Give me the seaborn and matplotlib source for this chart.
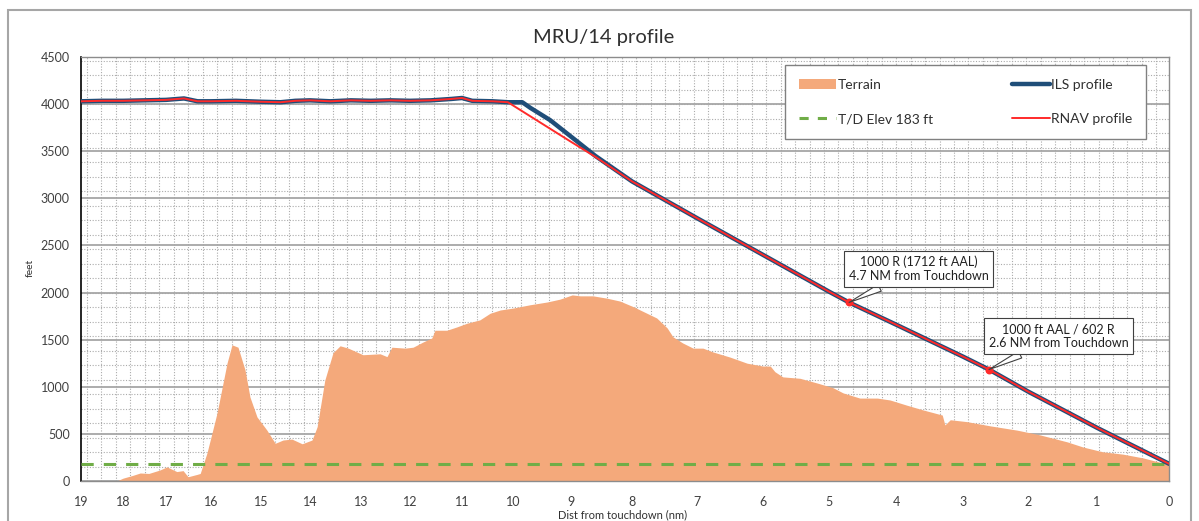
import numpy as np
import pandas as pd
import matplotlib
matplotlib.use("Agg")
import matplotlib.pyplot as plt
import seaborn as sns
from matplotlib.patches import Patch, Rectangle
from matplotlib.lines import Line2D

# terrain profile (distance from touchdown in nm, elevation in ft)
terrain_dist = [18.15, 18.0, 17.77, 17.6, 17.4, 17.14, 16.98, 16.76, 16.62, 16.51, 16.31, 16.24,
                16.09, 15.88, 15.68, 15.58, 15.46, 15.32, 15.22, 15.08, 14.88, 14.71, 14.55,
                14.37, 14.16, 13.96, 13.86, 13.71, 13.55, 13.41, 13.25, 12.96, 12.61, 12.47,
                12.37, 12.10, 11.94, 11.75, 11.58, 11.52, 11.29, 11.10, 10.90, 10.65, 10.45,
                10.25, 10.00, 9.71, 9.41, 9.19, 8.98, 8.85, 8.64, 8.41, 8.20, 7.98, 7.77,
                7.62, 7.46, 7.37, 7.22, 7.06, 6.91, 6.76, 6.50, 6.24, 6.00, 5.89, 5.82, 5.70,
                5.44, 5.18, 4.94, 4.79, 4.54, 4.28, 4.09, 3.84, 3.60, 3.31, 3.27, 3.19, 2.94,
                2.58, 2.17, 1.83, 1.43, 1.20, 0.92, 0.64, 0.36, 0.08, 0.0]
terrain_ft = [0, 30, 60, 85, 80, 117, 150, 100, 110, 45, 70, 80,
              297, 720, 1250, 1445, 1420, 1180, 890, 680, 540, 400, 435,
              445, 395, 435, 575, 1070, 1360, 1435, 1410, 1340, 1350, 1320,
              1420, 1410, 1420, 1475, 1518, 1600, 1600, 1635, 1675, 1710, 1780,
              1815, 1835, 1870, 1900, 1930, 1975, 1965, 1965, 1940, 1910, 1850, 1780,
              1730, 1625, 1530, 1465, 1410, 1410, 1370, 1315, 1250, 1220, 1220, 1160, 1105,
              1090, 1040, 990, 935, 880, 880, 860, 805, 755, 700, 595, 650, 630,
              585, 540, 490, 415, 360, 310, 285, 245, 190, 175]

# approach profiles
rnav_dist = [19, 18.5, 18, 17.5, 17, 16.6, 16.3, 16, 15.5, 15, 14.6, 14.3, 14, 13.6, 13.2,
             12.8, 12.4, 12, 11.6, 11.2, 11, 10.8, 10.4, 10.1, 9, 8.6, 8, 7, 6, 5, 4.7, 4,
             3, 2.6, 2, 1, 0]
rnav_ft = [4030, 4035, 4035, 4040, 4045, 4060, 4030, 4030, 4035, 4025, 4020, 4035, 4040, 4030,
           4040, 4035, 4040, 4035, 4040, 4055, 4065, 4035, 4030, 4020, 3600, 3440, 3180, 2790,
           2400, 2010, 1895, 1660, 1320, 1183, 950, 565, 183]
ils_dist = [19, 18.5, 18, 17.5, 17, 16.6, 16.3, 16, 15.5, 15, 14.6, 14.3, 14, 13.6, 13.2,
            12.8, 12.4, 12, 11.6, 11.2, 11, 10.8, 10.4, 10.1, 9.84, 9.7, 9.36, 8.97, 8.6, 8, 7,
            6, 5, 4.7, 4, 3, 2.6, 2, 1, 0]
ils_ft = [4030, 4035, 4035, 4040, 4045, 4060, 4030, 4030, 4035, 4025, 4020, 4035, 4040, 4030,
          4040, 4035, 4040, 4035, 4040, 4055, 4065, 4035, 4030, 4020, 4020, 3960, 3830, 3640,
          3450, 3180, 2790, 2400, 2010, 1895, 1660, 1320, 1183, 950, 565, 183]

td_elev = 183
marker_dist = [4.7, 2.6]
marker_ft = [1895, 1183]
marker_text = ["1000 R (1712 ft AAL)\n4.7 NM from Touchdown",
               "1000 ft AAL / 602 R\n2.6 NM from Touchdown"]

tick_dist = np.arange(0, 20)
# horizontal position of each distance label on the chart (pixels)
tick_px = np.array([1169, 1097, 1028, 963, 896, 829, 763, 697, 632, 571, 513, 462, 410,
                    361, 310, 261, 211, 166, 123, 81])
tick_pos = (1169 - tick_px) / 1088.0

def fwd(d):
    return np.interp(d, tick_dist, tick_pos)

def inv(p):
    return np.interp(p, tick_pos, tick_dist)

sns.set_theme(style="white")
plt.rcParams['font.family'] = ['Lato', 'DejaVu Sans']

fig = plt.figure(figsize=(11.99, 5.21), dpi=100)
ax_pos = [81 / 1199, 40 / 521, 1088 / 1199, 424 / 521]

# dotted background pattern
bg = fig.add_axes(ax_pos, zorder=0)
bg.set_xlim(0, 1088)
bg.set_ylim(0, 424)
bg.vlines(np.arange(6, 1088, 14.45), 0, 424, color='#ABABAB', lw=0.8, linestyles=(0, (1, 1.5)))
bg.hlines(np.arange(0, 424, 14.5), 0, 1088, color='#ABABAB', lw=0.8, linestyles=(0, (1, 1.5)))
bg.axis('off')

ax = fig.add_axes(ax_pos, zorder=1)
ax.patch.set_alpha(0)
ax.set_xscale('function', functions=(fwd, inv))

ax.fill_between(terrain_dist, terrain_ft, 0, color='#F4A97B', lw=0, zorder=2)
ax.axhline(td_elev, color='#70AD47', lw=2.2, dashes=(4, 3.3), zorder=3)

ils_df = pd.DataFrame({'dist': ils_dist, 'ft': ils_ft})
rnav_df = pd.DataFrame({'dist': rnav_dist, 'ft': rnav_ft})
sns.lineplot(data=ils_df, x='dist', y='ft', ax=ax, color='#1F4E79', lw=3.2, sort=False,
             estimator=None, zorder=4)
sns.lineplot(data=rnav_df, x='dist', y='ft', ax=ax, color='#FF2A2A', lw=1.4, sort=False,
             estimator=None, zorder=5)
ax.scatter(marker_dist, marker_ft, s=22, color='#FF2A2A', zorder=6)

for d, f, t in zip(marker_dist, marker_ft, marker_text):
    ax.annotate(t, xy=(d, f), xytext=(50, 24), textcoords='offset points',
                ha='center', va='center', fontsize=9, color='#202020',
                bbox=dict(boxstyle='square,pad=0.4', fc='white', ec='#404040', lw=0.8),
                arrowprops=dict(arrowstyle='wedge,tail_width=0.6', fc='white', ec='#404040',
                                lw=0.8, shrinkA=0, shrinkB=0), zorder=7)

ax.set_xlim(19, 0)
ax.set_ylim(0, 4500)
ax.set_xticks(tick_dist)
ax.set_xticklabels([str(t) for t in tick_dist])
ax.set_yticks(np.arange(0, 4501, 500))
ax.xaxis.set_minor_locator(matplotlib.ticker.NullLocator())
ax.tick_params(axis='x', length=0, labelsize=9, colors='#404040', pad=11)
ax.tick_params(axis='y', length=0, labelsize=9, colors='#404040', pad=8)
ax.yaxis.grid(True, color='#A6A6A6', lw=1.3)
ax.xaxis.grid(False)
ax.set_axisbelow(True)
ax.set_xlabel('')
ax.set_ylabel('')
for s in ['top', 'right', 'bottom']:
    ax.spines[s].set_color('#8C8C8C')
    ax.spines[s].set_linewidth(1.0)
ax.spines['left'].set_color('#000000')
ax.spines['left'].set_linewidth(1.2)

handles = [Patch(facecolor='#F4A97B', edgecolor='none'),
           Line2D([], [], color='#70AD47', lw=2.2, dashes=(3, 3)),
           Line2D([], [], color='#1F4E79', lw=3.2),
           Line2D([], [], color='#FF2A2A', lw=1.4)]
labels = ['Terrain', 'T/D Elev 183 ft', 'ILS profile', 'RNAV profile']
leg = ax.legend(handles, labels, ncol=2, loc='upper left', bbox_to_anchor=(0.647, 0.981, 0.332, 0.0),
                mode='expand', fontsize=10, frameon=True, fancybox=False, handlelength=2.7,
                handletextpad=0.1, labelspacing=1.6, borderpad=1.0, borderaxespad=0,
                framealpha=1)
leg.get_frame().set_edgecolor('#808080')
leg.get_frame().set_linewidth(1.0)
for t in leg.get_texts():
    t.set_color('#303030')

fig.text(604 / 1199, 1 - 37 / 521, 'MRU/14 profile', ha='center', va='center', fontsize=14.5,
         color='#303030')
fig.text(30 / 1199, 1 - 268 / 521, 'feet', rotation=90, ha='center', va='center', fontsize=7.5,
         color='#303030')
fig.text(623 / 1199, 1 - 515 / 521, 'Dist from touchdown (nm)', ha='center', va='center',
         fontsize=8, color='#303030')

fig.patches.append(Rectangle((8 / 1199, -0.1), 1183 / 1199, 1.1 - 10 / 521, transform=fig.transFigure,
                             fill=False, ec='#A6A6A6', lw=1.5))

fig.savefig('out.png', dpi=100)
